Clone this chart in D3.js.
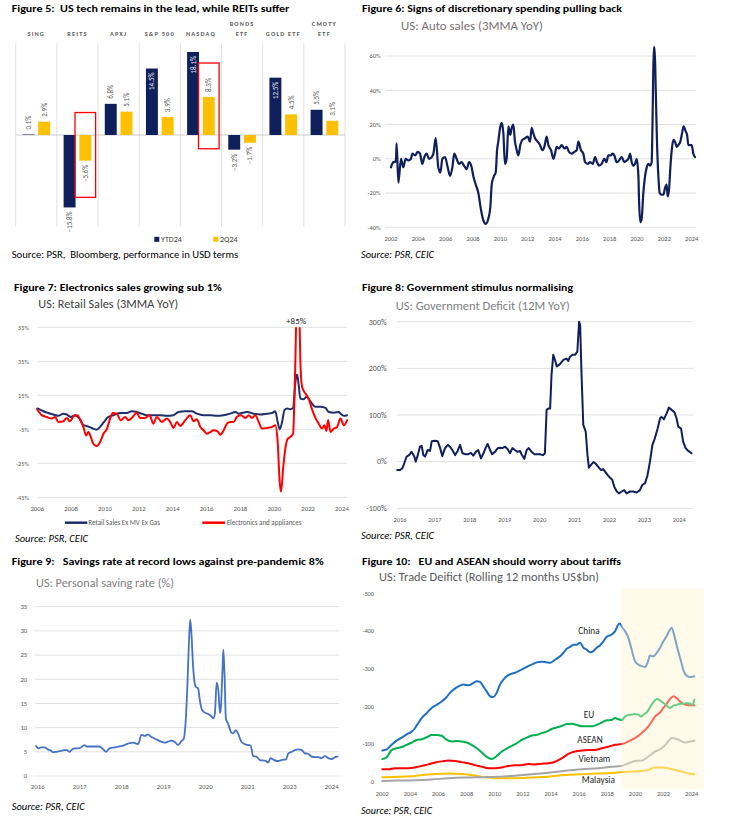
<!DOCTYPE html>
<html><head><meta charset="utf-8">
<script src="https://cdn.jsdelivr.net/npm/d3@7"></script>
<style>
html,body{margin:0;padding:0;background:#fff;}
svg{display:block;font-family:Carlito,Lato,"Liberation Sans",sans-serif;}
text{white-space:pre;}
</style></head><body>
<svg id="c" width="730" height="826" xml:space="preserve"></svg>
<script>
// ---------- Figure 5 data ----------
const fig5Cats = [["SING"],["REITS"],["APXJ"],["S&P 500"],["NASDAQ"],["BONDS","ETF"],["GOLD ETF"],["CMDTY","ETF"]];
const fig5Series = ["YTD24","2Q24"];
const fig5Ytd = [0.1,-15.8,6.8,14.5,18.1,-3.2,12.5,5.5];
const fig5Q2  = [2.9,-5.6,5.1,3.9,8.3,-1.7,4.5,3.1];
const fig5Boxes = [{cat:1, top:4.9, bottom:-13.6},{cat:4, top:15.7, bottom:-3.0}];

// ---------- Figure 6 data: US auto sales 3MMA YoY (%) ----------
const autoSales = [[2002.00,-5],[2002.17,-2],[2002.29,-2],[2002.37,0],[2002.41,9],[2002.54,-14],[2002.73,0],[2002.90,-5],[2003.07,0],[2003.27,-1],[2003.46,0],[2003.56,3],[2003.76,2],[2003.95,4],[2004.12,3],[2004.29,-3],[2004.44,1],[2004.61,3],[2004.78,0],[2004.98,1],[2005.10,3],[2005.27,12],[2005.46,-5],[2005.61,-8],[2005.76,0],[2005.95,1],[2006.15,-5],[2006.32,-10],[2006.49,-5],[2006.63,3],[2006.80,0],[2006.98,-3],[2007.17,-2],[2007.34,-4],[2007.54,-6],[2007.71,-2],[2007.90,-5],[2008.02,-10],[2008.20,-15],[2008.39,-20],[2008.59,-30],[2008.76,-36],[2008.93,-38],[2009.12,-35],[2009.27,-28],[2009.37,-15],[2009.54,-10],[2009.66,-8],[2009.76,5],[2009.85,10],[2009.98,18],[2010.10,21],[2010.22,15],[2010.34,-3],[2010.46,0],[2010.59,19],[2010.73,14],[2010.83,18],[2010.95,20],[2011.07,10],[2011.20,5],[2011.32,2],[2011.46,8],[2011.61,11],[2011.80,12],[2012.00,13],[2012.17,10],[2012.29,18],[2012.41,15],[2012.54,12],[2012.73,10],[2012.90,8],[2013.07,5],[2013.22,7],[2013.39,13],[2013.51,8],[2013.71,5],[2013.88,0],[2014.00,3],[2014.12,7],[2014.29,6],[2014.49,8],[2014.68,6],[2014.85,7],[2015.02,4],[2015.22,3],[2015.41,4],[2015.59,5],[2015.71,10],[2015.90,5],[2016.07,3],[2016.20,-2],[2016.39,-3],[2016.56,-2],[2016.76,-3],[2016.93,1],[2017.07,-2],[2017.22,-4],[2017.41,-3],[2017.61,0],[2017.76,-2],[2017.90,2],[2018.10,2],[2018.20,3],[2018.34,2],[2018.51,-2],[2018.68,-1],[2018.88,1],[2019.07,-2],[2019.24,-1],[2019.37,0],[2019.49,3],[2019.61,-2],[2019.73,-4],[2019.85,-3],[2019.98,0],[2020.10,-10],[2020.15,-25],[2020.24,-37],[2020.34,-35],[2020.46,-20],[2020.59,-10],[2020.71,-5],[2020.83,-3],[2020.95,-4],[2021.07,-2],[2021.15,30],[2021.22,65],[2021.29,65],[2021.37,40],[2021.46,10],[2021.56,-10],[2021.66,-20],[2021.80,-21],[2021.93,-21],[2022.05,-17],[2022.17,-15],[2022.24,-22],[2022.34,-18],[2022.44,-5],[2022.54,5],[2022.66,11],[2022.78,10],[2022.90,7],[2023.02,8],[2023.17,10],[2023.32,16],[2023.41,19],[2023.56,16],[2023.66,14],[2023.76,8],[2023.88,8],[2024.00,8],[2024.12,3],[2024.24,1]];
const autoTicksY = [-40,-20,0,20,40,60];
const autoTicksX = [2002,2004,2006,2008,2010,2012,2014,2016,2018,2020,2022,2024];

// ---------- Figure 7 data: US retail sales 3MMA YoY (%) ----------
const retailExMvGas = [[2006.00,7.2],[2006.16,6.6],[2006.36,5.6],[2006.65,4.6],[2006.95,3.7],[2007.24,2.9],[2007.54,4.2],[2007.74,3.7],[2007.97,2.3],[2008.23,3.3],[2008.52,0.9],[2008.72,-2.6],[2008.96,-3.2],[2009.21,-4.2],[2009.51,-5.2],[2009.71,-3.6],[2009.94,-0.7],[2010.20,2.3],[2010.50,3.3],[2010.89,4.6],[2011.29,4.6],[2011.58,5.6],[2011.88,5.2],[2012.17,4.2],[2012.47,3.3],[2012.86,3.3],[2013.26,3.3],[2013.65,2.9],[2014.05,3.3],[2014.34,5.2],[2014.74,5.6],[2015.13,5.6],[2015.43,4.2],[2015.82,3.3],[2016.22,3.3],[2016.61,2.9],[2017.01,3.3],[2017.40,4.2],[2017.70,5.2],[2017.89,4.2],[2018.39,5.2],[2018.78,4.2],[2019.18,3.7],[2019.57,4.2],[2019.87,4.6],[2020.06,5.6],[2020.20,-0.7],[2020.32,-5],[2020.46,-0.7],[2020.60,6.2],[2020.75,7.2],[2020.95,6.8],[2021.11,7.6],[2021.25,23],[2021.35,27.3],[2021.44,21],[2021.54,13.1],[2021.74,12.7],[2021.90,14.1],[2022.04,12.7],[2022.23,10.1],[2022.43,8.2],[2022.73,8.2],[2023.02,7.6],[2023.22,5.2],[2023.51,4.8],[2023.81,5.2],[2023.91,4.2],[2024.11,2.9],[2024.30,3.3]];
const electronics = [[2006.00,6.6],[2006.26,3.3],[2006.55,2.3],[2006.85,1.3],[2007.05,2.3],[2007.24,-0.7],[2007.54,-0.3],[2007.74,1.7],[2007.93,-0.3],[2008.17,2.9],[2008.37,3.3],[2008.52,0.9],[2008.72,-3.6],[2008.88,-8.6],[2009.02,-6.6],[2009.16,-9.5],[2009.31,-13.5],[2009.51,-14.9],[2009.71,-12.5],[2009.91,-7.6],[2010.10,-5],[2010.30,1.3],[2010.46,4.6],[2010.69,4.2],[2010.93,0.3],[2011.19,2.3],[2011.38,0.3],[2011.64,2.3],[2011.88,4.8],[2012.07,1.7],[2012.37,1.7],[2012.63,3.3],[2012.86,-1.7],[2013.06,2.3],[2013.36,-0.7],[2013.65,1.3],[2013.85,-0.7],[2014.05,-4.2],[2014.24,-0.7],[2014.44,-3],[2014.74,0.3],[2015.03,3.3],[2015.23,-0.3],[2015.43,0.9],[2015.63,-3.6],[2015.82,-5.6],[2016.02,-7.6],[2016.22,-6.6],[2016.41,-5.6],[2016.65,-6.2],[2016.81,-8.2],[2017.01,-5.6],[2017.20,-1.7],[2017.40,-0.7],[2017.60,-0.7],[2017.79,2.3],[2018.03,3.3],[2018.29,1.7],[2018.49,3.3],[2018.68,1.7],[2018.88,3.3],[2019.08,-0.7],[2019.27,-4.6],[2019.57,-4.2],[2019.87,-3.6],[2020.06,-2.6],[2020.20,-12.5],[2020.32,-36],[2020.40,-41.7],[2020.52,-28.3],[2020.65,-16.5],[2020.79,-10.6],[2020.95,-9.5],[2021.11,-7.6],[2021.19,13.1],[2021.25,36.8],[2021.31,70],[2021.36,85],[2021.42,80],[2021.48,66],[2021.54,35],[2021.64,20],[2021.84,16],[2022.04,12.7],[2022.23,6.7],[2022.43,1.7],[2022.63,-1.7],[2022.82,-4.6],[2022.96,-2.6],[2023.08,-6],[2023.18,0.5],[2023.32,-6.6],[2023.51,-4.6],[2023.71,-3.6],[2023.91,1.3],[2024.11,-2.6],[2024.30,0.3]];
const retailTicksY = [-45,-25,-5,15,35,55];
const retailTicksX = [2006,2008,2010,2012,2014,2016,2018,2020,2022,2024];
const retailLegend = ["Retail Sales Ex MV Ex Gas","Electronics and appliances"];
const retailPeakNote = {x:2021.29, label:"+85%"};

// ---------- Figure 8 data: US government deficit 12M YoY (%) ----------
const govDeficit = [[2015.92,-18],[2016.00,-18],[2016.07,-14],[2016.12,-4],[2016.19,11],[2016.26,14],[2016.33,21],[2016.41,11],[2016.45,0],[2016.51,14],[2016.57,32],[2016.62,34],[2016.67,14],[2016.72,11],[2016.79,25],[2016.86,23],[2016.91,44],[2017.00,45],[2017.08,44],[2017.15,29],[2017.21,12],[2017.29,29],[2017.37,36],[2017.43,32],[2017.50,25],[2017.58,14],[2017.65,23],[2017.72,36],[2017.79,18],[2017.86,16],[2017.96,16],[2018.03,19],[2018.10,13],[2018.17,21],[2018.24,25],[2018.32,7],[2018.39,18],[2018.45,29],[2018.51,38],[2018.58,25],[2018.64,16],[2018.72,21],[2018.80,29],[2018.86,30],[2018.93,29],[2019.01,32],[2019.08,27],[2019.15,18],[2019.22,29],[2019.29,25],[2019.37,21],[2019.44,23],[2019.48,16],[2019.56,6],[2019.63,25],[2019.69,29],[2019.77,21],[2019.85,16],[2019.91,16],[2020.01,16],[2020.10,14],[2020.15,18],[2020.20,111],[2020.25,114],[2020.30,114],[2020.34,186],[2020.39,229],[2020.44,218],[2020.49,204],[2020.58,209],[2020.68,218],[2020.77,221],[2020.82,216],[2020.87,225],[2020.94,229],[2021.01,229],[2021.08,236],[2021.13,300],[2021.16,293],[2021.20,186],[2021.25,79],[2021.32,64],[2021.37,14],[2021.41,-13],[2021.47,-7],[2021.54,-1],[2021.60,-4],[2021.68,-11],[2021.76,-18],[2021.82,-16],[2021.87,-21],[2021.95,-29],[2022.01,-34],[2022.08,-39],[2022.14,-54],[2022.21,-64],[2022.27,-68],[2022.35,-64],[2022.42,-61],[2022.49,-68],[2022.59,-64],[2022.68,-64],[2022.78,-66],[2022.87,-61],[2022.94,-50],[2023.02,-46],[2023.09,-29],[2023.16,0],[2023.23,36],[2023.30,50],[2023.38,71],[2023.45,93],[2023.49,96],[2023.56,91],[2023.64,104],[2023.70,116],[2023.78,111],[2023.86,106],[2023.92,93],[2023.97,75],[2024.05,71],[2024.11,43],[2024.18,29],[2024.26,23],[2024.35,18]];
const govTicksY = [-100,0,100,200,300];
const govTicksX = [2016,2017,2018,2019,2020,2021,2022,2023,2024];

// ---------- Figure 9 data: US personal saving rate (%), x in axis-label units ----------
const savingLabels = ["2016","2017","2018","2019","2020","2021","2023","2024"];
const savingRate = [[-0.04,6.2],[0.02,5.7],[0.08,5.9],[0.16,5.9],[0.24,5.5],[0.32,5.2],[0.36,4.9],[0.44,5.0],[0.56,5.2],[0.68,5.4],[0.76,5.0],[0.82,5.5],[0.88,5.7],[0.95,5.7],[1.03,5.9],[1.11,6.4],[1.17,6.1],[1.27,6.1],[1.38,6.1],[1.47,6.1],[1.55,5.6],[1.63,5.0],[1.71,5.7],[1.83,5.9],[1.95,6.1],[2.07,6.4],[2.19,6.8],[2.27,6.9],[2.39,6.6],[2.47,8.5],[2.55,8.3],[2.63,8.6],[2.70,8.1],[2.82,7.6],[2.94,7.1],[3.02,6.9],[3.10,7.1],[3.18,7.3],[3.26,7.1],[3.34,6.4],[3.42,7.2],[3.48,7.8],[3.52,10.9],[3.56,17.8],[3.60,27.4],[3.63,32.3],[3.66,29.5],[3.70,22.6],[3.76,18.5],[3.82,18.1],[3.86,15.7],[3.91,13.7],[3.98,13.1],[4.06,12.8],[4.14,12.3],[4.18,11.9],[4.22,13.0],[4.26,19.3],[4.30,17.8],[4.34,13.0],[4.36,14.0],[4.40,21.9],[4.42,26.1],[4.45,20.6],[4.48,11.9],[4.53,10.9],[4.61,9.0],[4.65,8.8],[4.72,9.5],[4.77,8.8],[4.85,7.1],[4.93,6.6],[5.01,6.4],[5.07,6.3],[5.13,4.1],[5.21,4.0],[5.29,3.3],[5.41,3.2],[5.49,2.8],[5.54,3.7],[5.61,3.4],[5.69,3.1],[5.77,3.2],[5.85,3.4],[5.91,3.4],[5.97,4.7],[6.05,5.0],[6.13,5.4],[6.21,5.5],[6.28,5.4],[6.36,4.7],[6.44,4.6],[6.52,4.0],[6.60,3.9],[6.68,3.9],[6.76,3.7],[6.84,4.1],[6.92,3.7],[7.00,3.5],[7.08,3.9],[7.14,4.0]];
const savingTicksY = [0,5,10,15,20,25,30,35];

// ---------- Figure 10 data: US trade deficit, rolling 12m US$bn ----------
const tradeNames = ["China","EU","ASEAN","Vietnam","Malaysia"];
const tradeChina = [[2002.00,-83],[2002.31,-86],[2002.66,-98],[2003.02,-109],[2003.38,-117],[2003.73,-126],[2004.09,-133],[2004.32,-142],[2004.56,-156],[2004.80,-169],[2005.15,-182],[2005.51,-196],[2005.86,-204],[2006.22,-213],[2006.58,-225],[2006.81,-236],[2007.05,-244],[2007.41,-253],[2007.76,-258],[2008.12,-256],[2008.47,-262],[2008.71,-267],[2008.95,-265],[2009.18,-253],[2009.42,-240],[2009.66,-227],[2009.89,-225],[2010.13,-236],[2010.37,-258],[2010.61,-271],[2010.84,-280],[2011.20,-287],[2011.55,-291],[2011.91,-298],[2012.27,-305],[2012.62,-311],[2012.98,-317],[2013.33,-319],[2013.69,-317],[2013.93,-316],[2014.28,-324],[2014.64,-333],[2014.87,-342],[2015.11,-353],[2015.35,-358],[2015.58,-364],[2015.82,-364],[2016.06,-369],[2016.30,-356],[2016.53,-351],[2016.77,-344],[2017.01,-347],[2017.24,-356],[2017.48,-362],[2017.72,-373],[2017.96,-385],[2018.31,-391],[2018.55,-400],[2018.79,-418],[2018.90,-420],[2019.07,-409],[2019.26,-400],[2019.50,-382],[2019.73,-351],[2019.97,-320],[2020.21,-311],[2020.44,-307],[2020.68,-305],[2020.87,-317],[2021.04,-335],[2021.27,-333],[2021.51,-342],[2021.75,-356],[2021.99,-373],[2022.22,-387],[2022.46,-404],[2022.58,-409],[2022.77,-387],[2023.01,-351],[2023.24,-320],[2023.48,-289],[2023.72,-280],[2023.95,-278],[2024.19,-280]];
const tradeEU = [[2002.00,-60],[2002.31,-65],[2002.66,-84],[2003.02,-89],[2003.38,-92],[2003.73,-98],[2004.09,-104],[2004.44,-111],[2004.80,-113],[2005.15,-118],[2005.51,-124],[2005.86,-124],[2006.22,-122],[2006.58,-111],[2006.93,-107],[2007.29,-108],[2007.64,-107],[2008.00,-104],[2008.35,-98],[2008.71,-89],[2009.06,-78],[2009.42,-66],[2009.78,-60],[2010.13,-68],[2010.49,-80],[2010.84,-88],[2011.20,-95],[2011.55,-102],[2011.91,-111],[2012.27,-117],[2012.62,-123],[2012.98,-124],[2013.33,-129],[2013.69,-133],[2014.04,-140],[2014.40,-144],[2014.75,-148],[2015.11,-153],[2015.47,-154],[2015.82,-151],[2016.18,-147],[2016.53,-147],[2016.89,-147],[2017.24,-151],[2017.60,-157],[2017.96,-163],[2018.31,-164],[2018.55,-169],[2018.79,-166],[2019.02,-164],[2019.26,-173],[2019.50,-177],[2019.73,-178],[2019.97,-180],[2020.21,-178],[2020.40,-173],[2020.56,-178],[2020.80,-184],[2021.04,-198],[2021.27,-211],[2021.51,-220],[2021.75,-216],[2021.99,-209],[2022.22,-202],[2022.46,-196],[2022.70,-202],[2022.93,-204],[2023.17,-207],[2023.41,-207],[2023.65,-209],[2023.88,-207],[2024.05,-204],[2024.19,-218]];
const tradeASEAN = [[2002.00,-33],[2002.43,-33],[2002.90,-36],[2003.38,-36],[2003.85,-36],[2004.32,-38],[2004.80,-42],[2005.27,-46],[2005.75,-51],[2006.22,-54],[2006.69,-56],[2007.17,-55],[2007.64,-52],[2008.12,-49],[2008.59,-44],[2009.06,-40],[2009.54,-36],[2010.01,-36],[2010.49,-38],[2010.96,-42],[2011.44,-44],[2011.91,-44],[2012.38,-47],[2012.86,-46],[2013.33,-48],[2013.81,-49],[2014.28,-53],[2014.75,-62],[2015.23,-74],[2015.70,-80],[2016.18,-83],[2016.65,-84],[2017.13,-84],[2017.60,-89],[2018.07,-93],[2018.55,-98],[2019.02,-100],[2019.50,-107],[2019.97,-116],[2020.44,-129],[2020.92,-147],[2021.16,-160],[2021.39,-173],[2021.75,-184],[2021.99,-196],[2022.22,-207],[2022.46,-220],[2022.70,-227],[2022.93,-222],[2023.17,-213],[2023.41,-207],[2023.65,-204],[2023.88,-203],[2024.19,-203]];
const tradeVietnam = [[2002.00,-2],[2003.14,-3],[2004.32,-4],[2005.51,-6],[2006.69,-9],[2007.88,-11],[2009.06,-12],[2010.25,-13],[2011.44,-16],[2012.62,-20],[2013.81,-24],[2014.99,-29],[2016.18,-33],[2017.36,-36],[2018.31,-40],[2019.02,-42],[2019.50,-49],[2019.97,-55],[2020.44,-56],[2020.92,-67],[2021.39,-80],[2021.87,-89],[2022.22,-102],[2022.58,-116],[2022.82,-115],[2023.17,-109],[2023.53,-104],[2023.88,-107],[2024.19,-109]];
const tradeMalaysia = [[2002.00,-12],[2003.14,-13],[2004.32,-15],[2005.51,-20],[2006.69,-22],[2007.88,-20],[2009.06,-13],[2010.25,-9],[2011.44,-9],[2012.62,-11],[2013.81,-13],[2014.99,-18],[2016.18,-20],[2017.36,-22],[2018.55,-24],[2019.73,-27],[2020.92,-31],[2021.39,-38],[2021.87,-38],[2022.34,-36],[2022.82,-31],[2023.29,-27],[2023.77,-22],[2024.19,-20]];
const tradeLabelPos = [[2016.7,-400],[2016.7,-177],[2016.77,-111],[2017.08,-60],[2017.36,-6]];
const tradeShade = [2019.0, 2024.85];
const tradeTicksY = [0,-100,-200,-300,-400,-500];
const tradeTicksX = [2002,2004,2006,2008,2010,2012,2014,2016,2018,2020,2022,2024];

// ---------- helpers ----------
const svg = d3.select("#c");
const GRID = "#d9d9d9", AX = "#595959";
function text(x,y,s,o={}){
  const t = svg.append("text").attr("x",x).attr("y",y).text(s)
    .attr("font-size",o.size||10).attr("fill",o.fill||"#000");
  if(o.weight) t.attr("font-weight",o.weight);
  if(o.style) t.attr("font-style",o.style);
  if(o.anchor) t.attr("text-anchor",o.anchor);
  if(o.len) t.attr("textLength",o.len).attr("lengthAdjust","spacingAndGlyphs");
  if(o.ls) t.attr("letter-spacing",o.ls);
  return t;
}
function hgrid(y, ticks, x0, x1){
  ticks.forEach(v=>svg.append("line").attr("x1",x0).attr("x2",x1)
    .attr("y1",y(v)).attr("y2",y(v)).attr("stroke",GRID).attr("stroke-width",0.8));
}
function yLabels(y, ticks, xr, fmt, size){
  ticks.forEach(v=>text(xr, y(v)+size*0.35, fmt(v), {size:size, fill:AX, anchor:"end"}));
}
function xLabels(x, ticks, yc, fmt, size){
  ticks.forEach(v=>text(x(v), yc+size*0.35, fmt(v), {size:size, fill:AX, anchor:"middle"}));
}
function drawLine(data, x, y, color, w, curve, clip){
  const p = svg.append("path").datum(data)
    .attr("d", d3.line().x(d=>x(d[0])).y(d=>y(d[1])).curve(curve||d3.curveMonotoneX))
    .attr("fill","none").attr("stroke",color).attr("stroke-width",w)
    .attr("stroke-linejoin","round").attr("stroke-linecap","round");
  if(clip) p.attr("clip-path",clip);
  return p;
}

// ================= Figure 5 =================
text(11.7,12,"Figure 5:  US tech remains in the lead, while REITs suffer",{size:10.5,weight:"bold",len:277.6});
const f5x = d3.scaleBand().domain(d3.range(fig5Cats.length)).range([15.7,345]);
const f5sub = d3.scaleBand().domain([0,1]).range([0,f5x.bandwidth()]).paddingInner(0.24).paddingOuter(0.43);
const f5y = d3.scaleLinear().domain([-20,20]).range([226.7,43.3]);
const f5col = ["#0f1f5c","#ffc000"];
f5x.domain().concat([fig5Cats.length]).forEach(i=>{
  const xx = i<fig5Cats.length ? f5x(i) : f5x.range()[1];
  svg.append("line").attr("x1",xx).attr("x2",xx).attr("y1",f5y(20)).attr("y2",f5y(-20))
    .attr("stroke",GRID).attr("stroke-width",0.8);
});
svg.append("line").attr("x1",f5x.range()[0]).attr("x2",f5x.range()[1])
  .attr("y1",f5y(0)).attr("y2",f5y(0)).attr("stroke","#bfbfbf").attr("stroke-width",0.8);
fig5Cats.forEach((lines,i)=>{
  const cx = f5x(i)+f5x.bandwidth()/2;
  lines.forEach((s,j)=>{
    const yy = 35.5 - (lines.length-1-j)*9.5;
    text(cx, yy, s, {size:6.3, fill:AX, anchor:"middle", ls:1.2, weight:"bold"});
  });
});
[fig5Ytd, fig5Q2].forEach((vals,s)=>{
  vals.forEach((v,i)=>{
    const x = f5x(i)+f5sub(s), w = f5sub.bandwidth();
    svg.append("rect").attr("x",x).attr("width",w)
      .attr("y",f5y(Math.max(0,v))).attr("height",Math.abs(f5y(v)-f5y(0)))
      .attr("fill",f5col[s]);
    const cx = x+w/2;
    let ay, anchor, fill = AX;
    if(v>=10){ ay=f5y(v)+4; anchor="end"; fill="#e8e8e8"; }
    else if(v>=0){ ay=f5y(v)-5; anchor="start"; }
    else { ay=f5y(v)+4; anchor="end"; }
    svg.append("text").attr("x",cx).attr("y",ay).text(d3.format(".1f")(v)+"%")
      .attr("font-size",7).attr("fill",fill).attr("text-anchor",anchor)
      .attr("dominant-baseline","central")
      .attr("transform",`rotate(-90,${cx},${ay})`);
  });
});
fig5Boxes.forEach(b=>{
  const x = f5x(b.cat)+f5sub(1)+f5sub.bandwidth()/2;
  svg.append("rect").attr("x",x-10.3).attr("width",20.6)
    .attr("y",f5y(b.top)).attr("height",f5y(b.bottom)-f5y(b.top))
    .attr("fill","none").attr("stroke","#ff0000").attr("stroke-width",1.3);
});
svg.append("rect").attr("x",154.3).attr("y",236.8).attr("width",5).attr("height",5).attr("fill",f5col[0]);
text(161,242.2,fig5Series[0],{size:8,fill:"#404040"});
svg.append("rect").attr("x",213.3).attr("y",236.8).attr("width",5).attr("height",5).attr("fill",f5col[1]);
text(220,242.2,fig5Series[1],{size:8,fill:"#404040"});
text(11.7,257.5,"Source: PSR,  Bloomberg, performance in USD terms",{size:9.5,len:226.6});

// ================= Figure 6 =================
text(362,12,"Figure 6: Signs of discretionary spending pulling back",{size:10.5,weight:"bold",len:260});
text(401,30,"US: Auto sales (3MMA YoY)",{size:11.5,fill:"#767171",len:142});
const f6x = d3.scaleLinear().domain([2002,2024]).range([391,691.7]);
const f6y = d3.scaleLinear().domain([-40,60]).range([227.3,56]);
hgrid(f6y, autoTicksY, 385, 696);
yLabels(f6y, autoTicksY, 380.7, v=>v+"%", 6.5);
xLabels(f6x, autoTicksX, 238.7, v=>v, 6.5);
drawLine(autoSales, f6x, f6y, "#0f1f5c", 2.2);
text(361,257.5,"Source: PSR, CEIC",{size:9.5,style:"italic",len:73});

// ================= Figure 7 =================
text(14,290.5,"Figure 7: Electronics sales growing sub 1%",{size:10.5,weight:"bold",len:207.7});
text(38.3,308.3,"US: Retail Sales (3MMA YoY)",{size:11.5,fill:"#404040",len:140});
const f7x = d3.scaleLinear().domain([2006,2024]).range([37.3,342]);
const f7y = d3.scaleLinear().domain([-45,55]).range([497.3,327.3]);
hgrid(f7y, retailTicksY, 37.3, 347.3);
yLabels(f7y, retailTicksY, 29, v=>v+"%", 6.3);
xLabels(f7x, retailTicksX, 509, v=>v, 6.8);
svg.append("clipPath").attr("id","clip7").append("rect")
  .attr("x",30).attr("width",330).attr("y",f7y(55)).attr("height",f7y(-60)-f7y(55));
drawLine(retailExMvGas, f7x, f7y, "#1f2f6b", 2, d3.curveMonotoneX, "url(#clip7)");
drawLine(electronics, f7x, f7y, "#ff0000", 2, d3.curveMonotoneX, "url(#clip7)");
text(f7x(retailPeakNote.x), 323.8, retailPeakNote.label, {size:9, fill:"#262626", anchor:"middle"});
svg.append("line").attr("x1",65).attr("x2",87.3).attr("y1",522.7).attr("y2",522.7).attr("stroke","#1f2f6b").attr("stroke-width",2.5);
text(88.3,525.2,retailLegend[0],{size:7,fill:AX});
svg.append("line").attr("x1",202.3).attr("x2",225).attr("y1",522.7).attr("y2",522.7).attr("stroke","#ff0000").attr("stroke-width",2.5);
text(226.7,525.2,retailLegend[1],{size:7,fill:AX});
text(15,541.8,"Source: PSR, CEIC",{size:9.5,style:"italic",len:73});

// ================= Figure 8 =================
text(362,290.5,"Figure 8: Government stimulus normalising",{size:10.5,weight:"bold",len:211});
text(395.7,309.7,"US: Government Deficit (12M YoY)",{size:11.5,fill:"#7f7f7f",len:174});
const f8x = d3.scaleLinear().domain([2016,2024]).range([400,679.3]);
const f8y = d3.scaleLinear().domain([-100,300]).range([508.3,321.7]);
hgrid(f8y, govTicksY, 396.7, 693.3);
yLabels(f8y, govTicksY, 386.7, v=>v+"%", 8);
xLabels(f8x, govTicksX, 520, v=>v, 6.5);
drawLine(govDeficit, f8x, f8y, "#0f1f5c", 2, d3.curveLinear);
text(361,538.5,"Source: PSR, CEIC",{size:9.5,style:"italic",len:73});

// ================= Figure 9 =================
text(11.7,564.5,"Figure 9:   Savings rate at record lows against pre-pandemic 8%",{size:10.5,weight:"bold",len:312});
text(36,586.7,"US: Personal saving rate (%)",{size:11.5,fill:"#7f7f7f",len:138});
const f9x = d3.scaleLinear().domain([0,7]).range([37.7,331.7]);
const f9y = d3.scaleLinear().domain([0,35]).range([776,606.7]);
hgrid(f9y, savingTicksY, 35, 339.3);
yLabels(f9y, savingTicksY, 27.3, v=>v, 6.8);
savingLabels.forEach((s,i)=>text(f9x(i), 789.3, s, {size:6.8, fill:AX, anchor:"middle"}));
drawLine(savingRate, f9x, f9y, "#4472c4", 1.8);
text(11.7,810.2,"Source: PSR, CEIC",{size:9.5,style:"italic",len:73});

// ================= Figure 10 =================
text(362,564.5,"Figure 10:   EU and ASEAN should worry about tariffs",{size:10.5,weight:"bold",len:259});
text(379,580.7,"US: Trade Deifict (Rolling 12 months US$bn)",{size:11.5,fill:"#595959",len:220});
const f10x = d3.scaleLinear().domain([2002,2024]).range([382.3,691.7]);
const f10y = d3.scaleLinear().domain([0,-500]).range([781.7,593.5]);
yLabels(f10y, tradeTicksY, 374, v=>v, 6.3);
xLabels(f10x, tradeTicksX, 793.3, v=>v, 6.5);
const tradeSeries = [tradeChina, tradeEU, tradeASEAN, tradeVietnam, tradeMalaysia];
const tradeCols = ["#1f6fc5","#00b050","#ff0000","#a5a5a5","#ffc000"];
[4,3,2,1,0].forEach(i=>drawLine(tradeSeries[i], f10x, f10y, tradeCols[i], 2));
svg.append("rect").attr("x",f10x(tradeShade[0])).attr("width",f10x(tradeShade[1])-f10x(tradeShade[0]))
  .attr("y",f10y(-513)).attr("height",f10y(20)-f10y(-513))
  .attr("fill","#fff2cc").attr("fill-opacity",0.42);
tradeNames.forEach((n,i)=>text(f10x(tradeLabelPos[i][0]), f10y(tradeLabelPos[i][1])+3.3, n, {size:9.3, fill:"#262626", anchor:"middle"}));
text(361,813.5,"Source: PSR, CEIC",{size:9.5,style:"italic",len:71});
</script>
</body></html>
